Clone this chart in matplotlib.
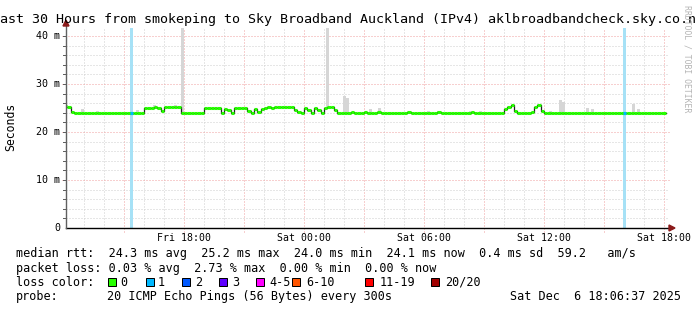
import numpy as np
import matplotlib
matplotlib.use('Agg')
import matplotlib.pyplot as plt
from matplotlib.patches import Rectangle, Polygon

W, H = 697, 310
MONO = 'DejaVu Sans Mono'

# x values are hours relative to Sat 00:00
tick_hours = [-6, 0, 6, 12, 18]
tick_labels = ['Fri 18:00', 'Sat 00:00', 'Sat 06:00', 'Sat 12:00', 'Sat 18:00']
y_ticks = [0, 10, 20, 30, 40]
y_labels = ['0', '10 m', '20 m', '30 m', '40 m']

# median rtt in ms, 10 minute steps, one row per hour starting Fri 12:00
median_rows = [
    [25.4, 25.2, 24.2, 24.0, 24.0, 24.0],  # Fri 12
    [24.0, 24.0, 24.0, 24.0, 24.0, 24.0],
    [24.0, 24.0, 24.0, 24.0, 24.0, 24.0],
    [24.0, 24.0, 24.0, 24.0, 24.0, 24.0],
    [25.0, 25.1, 25.1, 25.2, 25.1, 24.4],  # Fri 16
    [25.2, 25.3, 25.3, 25.3, 25.3, 24.0],
    [24.0, 24.0, 24.0, 24.0, 24.0, 24.0],  # Fri 18
    [24.9, 25.1, 25.1, 25.1, 25.0, 24.0],
    [24.8, 24.6, 24.0, 24.9, 25.0, 25.0],  # Fri 20
    [24.9, 24.3, 24.0, 24.8, 24.1, 24.8],
    [25.1, 25.2, 25.1, 25.2, 25.2, 25.3],  # Fri 22
    [25.3, 25.2, 25.3, 24.5, 24.1, 24.0],
    [25.0, 24.6, 24.0, 25.1, 24.5, 24.0],  # Sat 00
    [25.1, 25.3, 25.3, 24.6, 24.0, 24.0],
    [24.0, 24.0, 24.2, 24.0, 24.0, 24.0],  # Sat 02
    [24.2, 24.0, 24.0, 24.0, 24.2, 24.0],
    [24.0, 24.0, 24.0, 24.0, 24.0, 24.0],  # Sat 04
    [24.0, 24.2, 24.0, 24.0, 24.0, 24.0],
    [24.0, 24.0, 24.0, 24.0, 24.2, 24.0],  # Sat 06
    [24.0, 24.0, 24.0, 24.0, 24.0, 24.0],
    [24.0, 24.0, 24.2, 24.0, 24.0, 24.0],  # Sat 08
    [24.0, 24.0, 24.0, 24.0, 24.0, 24.0],
    [24.8, 25.3, 25.6, 24.3, 24.0, 24.0],  # Sat 10
    [24.0, 24.0, 24.2, 25.2, 25.6, 24.3],
    [24.0, 24.0, 24.0, 24.0, 24.0, 24.0],  # Sat 12
    [24.0, 24.0, 24.0, 24.0, 24.0, 24.0],
    [24.0, 24.0, 24.0, 24.0, 24.0, 24.0],  # Sat 14
    [24.0, 24.0, 24.0, 24.0, 24.0, 24.0],
    [24.0, 24.0, 24.0, 24.0, 24.0, 24.0],  # Sat 16
    [24.0, 24.0, 24.0, 24.0, 24.0, 24.0],
]
start_hour = -12.0
end_hour = 18.1
view_start = -11.9

# smoke (max ping) spikes: hour, top in ms
smoke_hours = [-11.1, -10.35, -8.35, -7.5, -6.45, -6.1, 1.17, 2.0, 2.15, 3.3, 3.75,
               6.2, 6.7, 8.3, 8.8, 12.3, 12.8, 12.95, 14.15, 14.4, 16.45, 16.7]
smoke_top = [24.7, 24.4, 24.5, 25.6, 25.6, 45.0, 45.0, 27.5, 27.0, 24.8, 25.0,
             24.4, 24.4, 24.4, 24.4, 24.4, 26.7, 26.2, 25.0, 24.8, 25.8, 24.7]

# packet loss events (lost pings out of 20)
loss_hours = [-8.62, 16.02]
loss_count = [1, 1]

loss_labels = ['0', '1', '2', '3', '4-5', '6-10', '11-19', '20/20']
loss_colors = ['#26ff00', '#00b8ff', '#0059ff', '#5e00ff', '#ff00ff', '#ff5500', '#ff0000', '#a10000']

title = 'Last 30 Hours from smokeping to Sky Broadband Auckland (IPv4) aklbroadbandcheck.sky.co.nz'
stats_lines = [
    'median rtt:  24.3 ms avg  25.2 ms max  24.0 ms min  24.1 ms now  0.4 ms sd  59.2   am/s',
    'packet loss: 0.03 % avg  2.73 % max  0.00 % min  0.00 % now',
]
probe_text = '20 ICMP Echo Pings (56 Bytes) every 300s'
stamp_text = 'Sat Dec  6 18:06:37 2025'


def fx(x):
    return x / W


def fy(y):
    return 1 - y / H


fig = plt.figure(figsize=(W / 100, H / 100), dpi=100)
fig.patch.set_facecolor('white')

# plot area in pixels
L, R, T, B = 66, 669, 28, 228
px_per_hour = 20.0
ax = fig.add_axes([fx(L), fy(B), (R - L) / W, (B - T) / H])
ax.set_xlim(view_start, view_start + (R - L) / px_per_hour)
ax.set_ylim(0, (B - T) / 4.8)
ax.axis('off')

# grid
for h in np.arange(-11, 19, 1):
    major = (h % 3 == 0)
    ax.plot([h, h], [-0.8 if major else 0, 41.67], color='#f0a0a0' if major else '#cfcfcf',
            lw=0.72, ls=(0, (1, 2)), clip_on=False, zorder=1)
for v in np.arange(2, 42, 2):
    major = (v % 10 == 0)
    ax.plot([view_start - (0.2 if major else 0), 18.25], [v, v], color='#f0a0a0' if major else '#cfcfcf',
            lw=0.72, ls=(0, (1, 2)), clip_on=False, zorder=1)
    ax.plot([view_start - 0.15, view_start], [v, v], color='#606060', lw=0.72, clip_on=False, zorder=2)

median = np.array(median_rows).ravel()
t = start_hour + np.arange(len(median)) / 6.0

# loss background bars
for h, n in zip(loss_hours, loss_count):
    ax.axvspan(h - 0.08, h + 0.08, color='#a6e1f6', lw=0, zorder=2)

# smoke
idx = np.clip(((np.array(smoke_hours) - start_hour) * 6).astype(int), 0, len(median) - 1)
bottoms = median[idx]
ax.bar(smoke_hours, np.array(smoke_top) - bottoms, bottom=bottoms, width=0.15,
       color='#d6d6d6', lw=0, zorder=3)

# median line: dark steps with green horizontal segments on top
t_step = np.append(t, end_hour)
m_step = np.append(median, median[-1])
mask = t_step >= view_start
ax.step(t_step[mask], m_step[mask], where='post', color='#202020', lw=0.9, zorder=4)
seg_start = np.maximum(t, view_start)
seg_end = np.append(t[1:], end_hour)
ax.hlines(median, seg_start, seg_end, color=loss_colors[0], lw=2.2, zorder=5, capstyle='butt')
for h, n in zip(loss_hours, loss_count):
    i = int((h - start_hour) * 6)
    ax.hlines(median[i], h - 0.08, h + 0.08, color=loss_colors[n], lw=2.2, zorder=6)

# axes lines with arrows
ax.plot([view_start, 18.4], [0, 0], color='black', lw=1.0, clip_on=False, zorder=7)
ax.plot([view_start, view_start], [0, 42.3], color='#606060', lw=1.0, clip_on=False, zorder=7)
fig.add_artist(Polygon([[fx(669), fy(225)], [fx(669), fy(231)], [fx(675), fy(228)]],
                       closed=True, color='#8b1a1a', transform=fig.transFigure))
fig.add_artist(Polygon([[fx(63), fy(26)], [fx(69), fy(26)], [fx(66), fy(20)]],
                       closed=True, color='#8b1a1a', transform=fig.transFigure))

# tick labels
for v, lab in zip(y_ticks, y_labels):
    ax.text(view_start - 0.3, v, lab, ha='right', va='center', fontsize=7.2,
            family=MONO, clip_on=False)
for h, lab in zip(tick_hours, tick_labels):
    fig.text(fx(304 + h * px_per_hour), fy(238), lab, ha='center', va='center',
             fontsize=7.1, family=MONO)

# titles
fig.text(fx(348.5), fy(19), title, ha='center', va='center', fontsize=9.6, family=MONO)
fig.text(fx(11), fy(127), 'Seconds', rotation=90, ha='center', va='center',
         fontsize=8.3, family=MONO)
fig.text(fx(687), fy(59), 'RRDTOOL / TOBI OETIKER', rotation=270, ha='center', va='center',
         fontsize=5.9, family=MONO, color='#b4b4b4')

# legend
for i, line in enumerate(stats_lines):
    fig.text(fx(16), fy(254 + i * 14.3), line, ha='left', va='center', fontsize=8.45, family=MONO)
fig.text(fx(16), fy(282), 'loss color:', ha='left', va='center', fontsize=8.45, family=MONO)
sq_x = [108, 146, 182, 219, 256, 292, 365, 431]
lab_x = [120, 158, 195, 232, 269, 306, 380, 445]
for sx, lx, c, lab in zip(sq_x, lab_x, loss_colors, loss_labels):
    fig.add_artist(Rectangle((fx(sx), fy(286)), 8 / W, 8 / H, facecolor=c, edgecolor='black',
                             lw=0.72, transform=fig.transFigure))
    fig.text(fx(lx), fy(282), lab, ha='left', va='center', fontsize=8.45, family=MONO)
fig.text(fx(16), fy(296.5), 'probe:', ha='left', va='center', fontsize=8.45, family=MONO)
fig.text(fx(107), fy(296.5), probe_text, ha='left', va='center', fontsize=8.45, family=MONO)
fig.text(fx(681), fy(296.5), stamp_text, ha='right', va='center', fontsize=8.45, family=MONO)

fig.savefig('out.png', dpi=100)
